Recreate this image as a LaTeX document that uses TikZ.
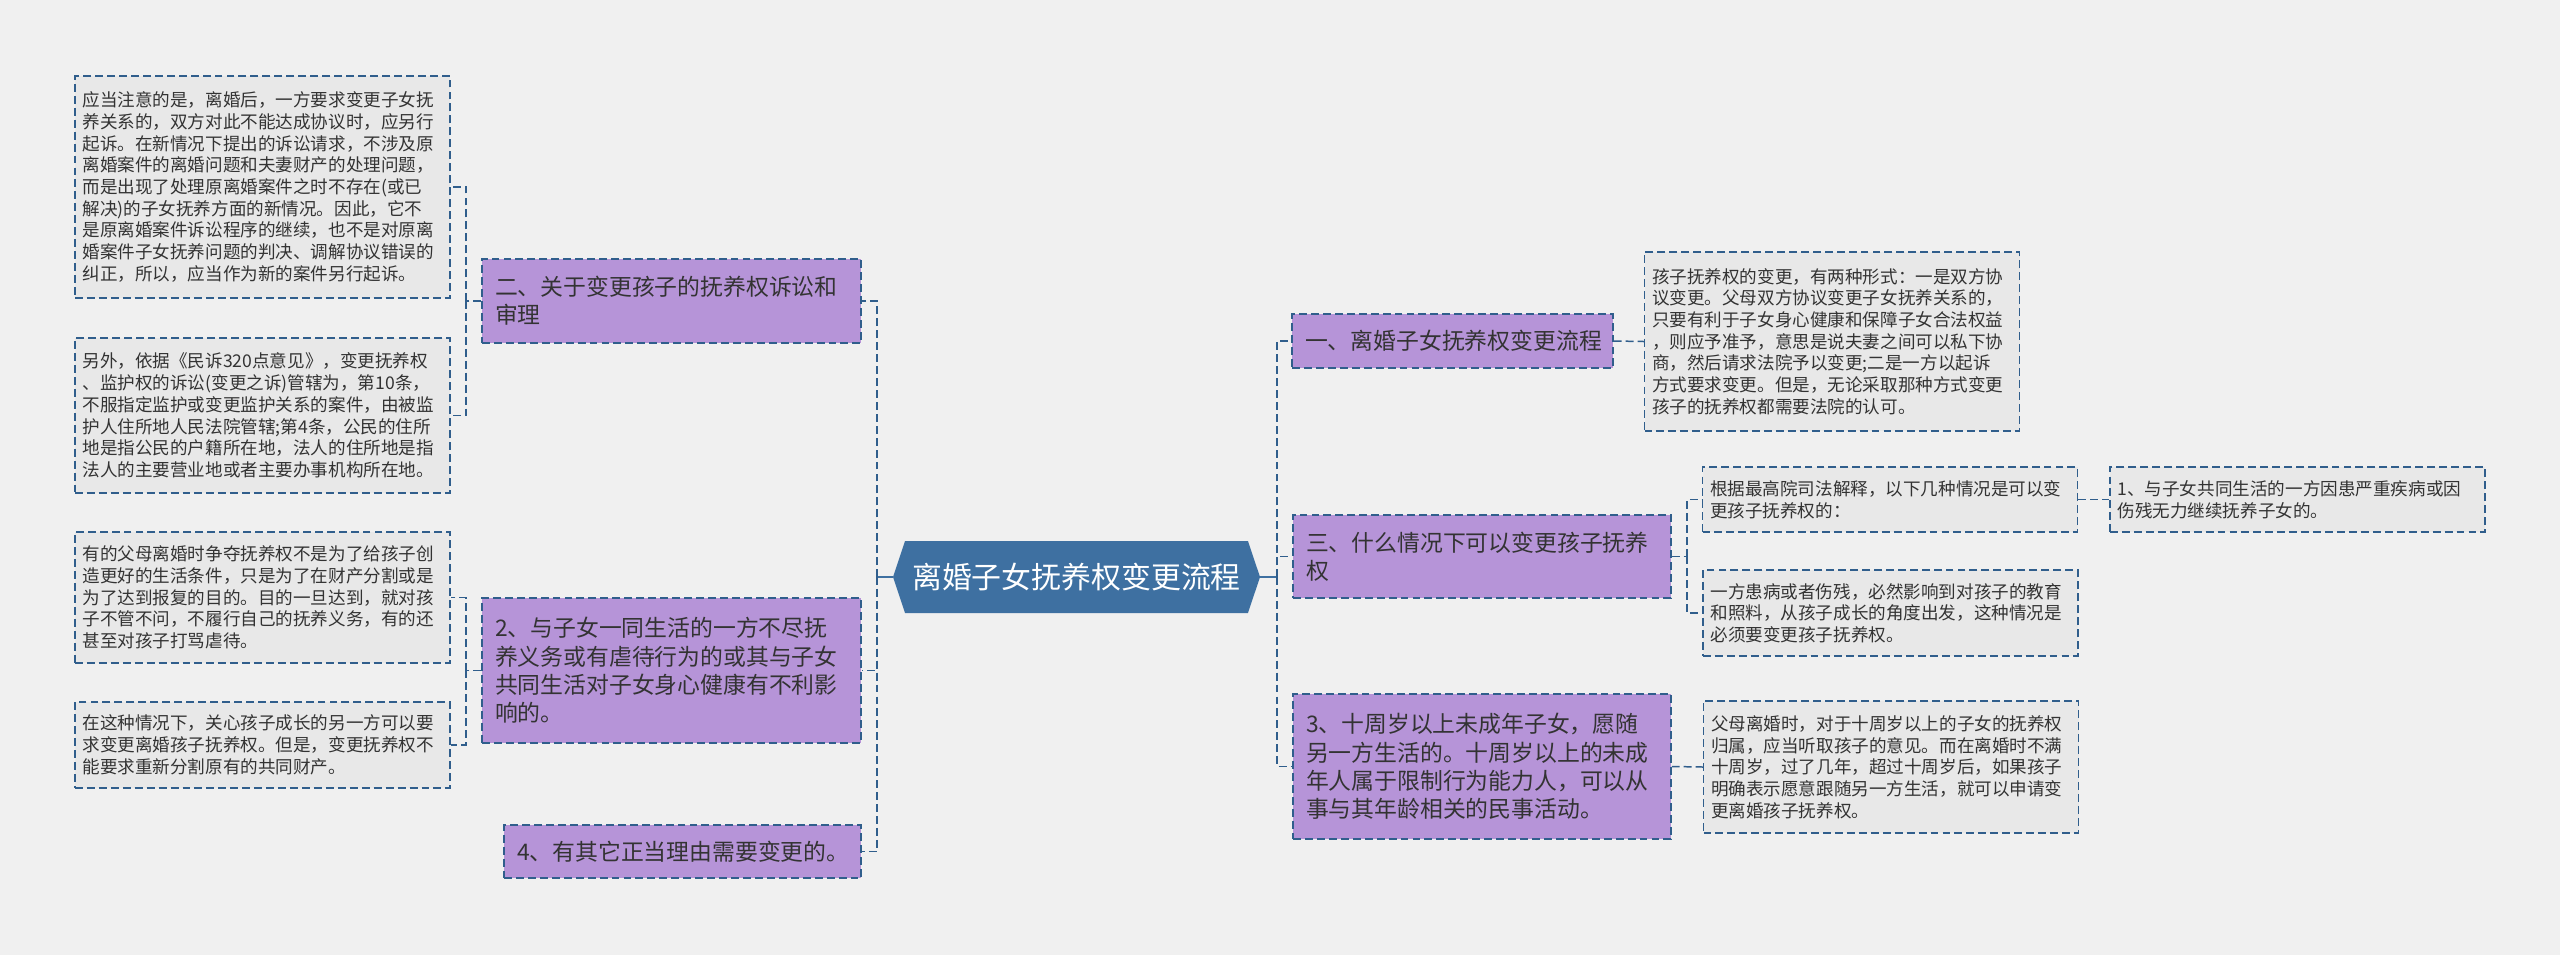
\documentclass[tikz,border=0pt]{standalone}
\usepackage{fontspec}
\setmainfont{Noto Sans CJK SC}
\usetikzlibrary{shapes.symbols}
\definecolor{bgcol}{RGB}{240,240,240}
\definecolor{linecol}{RGB}{48,94,140}
\definecolor{rootcol}{RGB}{62,112,161}
\definecolor{purplecol}{RGB}{182,148,216}
\definecolor{leafcol}{RGB}{232,232,232}
\definecolor{textcol}{RGB}{51,51,51}
\begin{document}
\begin{tikzpicture}[
  link/.style={draw=linecol, line width=0.85pt, dash pattern=on 4.5pt off 2.3pt},
  trunk/.style={draw=rootcol, line width=1.1pt},
  rootbox/.style={shape=signal, signal to=west and east, signal pointer angle=143,
    fill=rootcol, text=white, inner xsep=0.1cm, inner ysep=0pt,
    font=\fontsize{17}{20}\selectfont},
  branch/.style={fill=purplecol, link, text=textcol, align=left, inner xsep=0.26cm,
    inner ysep=0pt, font=\fontsize{13}{16.1}\selectfont},
  leaf/.style={fill=leafcol, link, text=textcol, align=left, inner xsep=0.15cm,
    inner ysep=0pt, text width=7.2cm, minimum width=7.5cm,
    font=\fontsize{10}{12.35}\selectfont}
]
\fill[bgcol] (0,0) rectangle (51.2,-19.1);
\useasboundingbox (0,0) rectangle (51.2,-19.1);

% root
\node[rootbox, minimum width=7.34cm, minimum height=1.44cm] (root) at (21.53,-11.54) {离婚子女抚养权变更流程};

% left side
\node[branch, text width=7.06cm, minimum width=7.58cm, minimum height=1.68cm] (l1) at (13.43,-6.02) {二、关于变更孩子的抚养权诉讼和\\审理};
\node[branch, text width=7.06cm, minimum width=7.58cm, minimum height=2.90cm] (l2) at (13.43,-13.41) {2、与子女一同生活的一方不尽抚\\养义务或有虐待行为的或其与子女\\共同生活对子女身心健康有不利影\\响的。};
\node[branch, text width=6.62cm, minimum width=7.14cm, minimum height=1.06cm] (l3) at (13.65,-17.03) {4、有其它正当理由需要变更的。};

\node[leaf, minimum height=4.44cm] (ll1) at (5.25,-3.74) {应当注意的是，离婚后，一方要求变更子女抚\\养关系的，双方对此不能达成协议时，应另行\\起诉。在新情况下提出的诉讼请求，不涉及原\\离婚案件的离婚问题和夫妻财产的处理问题，\\而是出现了处理原离婚案件之时不存在(或已\\解决)的子女抚养方面的新情况。因此，它不\\是原离婚案件诉讼程序的继续，也不是对原离\\婚案件子女抚养问题的判决、调解协议错误的\\纠正，所以，应当作为新的案件另行起诉。};
\node[leaf, minimum height=3.10cm] (ll2) at (5.25,-8.31) {另外，依据《民诉320点意见》，变更抚养权\\、监护权的诉讼(变更之诉)管辖为，第10条，\\不服指定监护或变更监护关系的案件，由被监\\护人住所地人民法院管辖;第4条，公民的住所\\地是指公民的户籍所在地，法人的住所地是指\\法人的主要营业地或者主要办事机构所在地。};
\node[leaf, minimum height=2.62cm] (ll3) at (5.25,-11.95) {有的父母离婚时争夺抚养权不是为了给孩子创\\造更好的生活条件，只是为了在财产分割或是\\为了达到报复的目的。目的一旦达到，就对孩\\子不管不问，不履行自己的抚养义务，有的还\\甚至对孩子打骂虐待。};
\node[leaf, minimum height=1.72cm] (ll4) at (5.25,-14.90) {在这种情况下，关心孩子成长的另一方可以要\\求变更离婚孩子抚养权。但是，变更抚养权不\\能要求重新分割原有的共同财产。};

% right side
\node[branch, text width=5.90cm, minimum width=6.42cm, minimum height=1.08cm] (r1) at (29.05,-6.82) {一、离婚子女抚养权变更流程};
\node[branch, text width=7.04cm, minimum width=7.56cm, minimum height=1.66cm] (r2) at (29.64,-11.13) {三、什么情况下可以变更孩子抚养\\权};
\node[branch, text width=7.04cm, minimum width=7.56cm, minimum height=2.90cm] (r3) at (29.64,-15.33) {3、十周岁以上未成年子女，愿随\\另一方生活的。十周岁以上的未成\\年人属于限制行为能力人，可以从\\事与其年龄相关的民事活动。};

\node[leaf, minimum height=3.58cm] (rl1) at (36.64,-6.83) {孩子抚养权的变更，有两种形式：一是双方协\\议变更。父母双方协议变更子女抚养关系的，\\只要有利于子女身心健康和保障子女合法权益\\，则应予准予，意思是说夫妻之间可以私下协\\商，然后请求法院予以变更;二是一方以起诉\\方式要求变更。但是，无论采取那种方式变更\\孩子的抚养权都需要法院的认可。};
\node[leaf, minimum height=1.30cm] (rl2) at (37.80,-9.99) {根据最高院司法解释，以下几种情况是可以变\\更孩子抚养权的：};
\node[leaf, minimum height=1.72cm] (rl3) at (37.81,-12.26) {一方患病或者伤残，必然影响到对孩子的教育\\和照料，从孩子成长的角度出发，这种情况是\\必须要变更孩子抚养权。};
\node[leaf, minimum height=1.30cm] (rl4) at (45.95,-9.99) {1、与子女共同生活的一方因患严重疾病或因\\伤残无力继续抚养子女的。};
\node[leaf, minimum height=2.64cm] (rl5) at (37.82,-15.34) {父母离婚时，对于十周岁以上的子女的抚养权\\归属，应当听取孩子的意见。而在离婚时不满\\十周岁，过了几年，超过十周岁后，如果孩子\\明确表示愿意跟随另一方生活，就可以申请变\\更离婚孩子抚养权。};

% junctions
\coordinate (jl0) at (17.54,-11.54);
\coordinate (jr0) at (25.54,-11.54);
\coordinate (jl1) at (9.32,-6.02);
\coordinate (jl2) at (9.32,-13.41);
\coordinate (jr2) at (33.74,-11.13);

% connectors
\draw[trunk] (root.west) -- (jl0);
\draw[trunk] (root.east) -- (jr0);
\draw[link] (jl0) |- (l1.east);
\draw[link] (jl0) |- (l2.east);
\draw[link] (jl0) |- (l3.east);
\draw[link] (jr0) |- (r1.west);
\draw[link] (jr0) |- (r2.west);
\draw[link] (jr0) |- (r3.west);

\draw[link] (l1.west) -- (jl1);
\draw[link] (jl1) |- (ll1.east);
\draw[link] (jl1) |- (ll2.east);
\draw[link] (l2.west) -- (jl2);
\draw[link] (jl2) |- (ll3.east);
\draw[link] (jl2) |- (ll4.east);

\draw[link] (r1.east) -- (rl1.west);
\draw[link] (r2.east) -- (jr2);
\draw[link] (jr2) |- (rl2.west);
\draw[link] (jr2) |- (rl3.west);
\draw[link] (rl2.east) -- (rl4.west);
\draw[link] (r3.east) -- (rl5.west);
\end{tikzpicture}
\end{document}
